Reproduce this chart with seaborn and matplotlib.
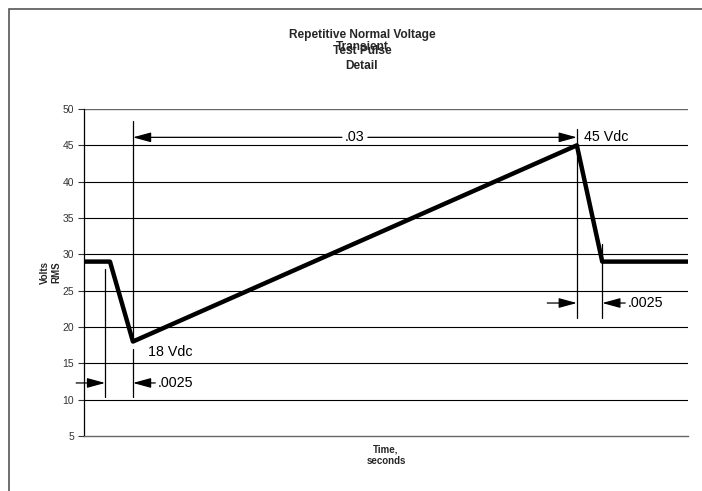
import numpy as np
import pandas as pd
import seaborn as sns
from matplotlib import pyplot as plt
from matplotlib.patches import Rectangle

sns.set_style("white")
plt.rcParams['font.family'] = ['Liberation Sans', 'DejaVu Sans']

# pulse shape (time in arbitrary drawing units, volts)
pulse_t = [0, 4.3, 8.1, 81.6, 85.8, 100]
pulse_v = [29, 29, 18, 45, 29, 29]

y_ticks = [5, 10, 15, 20, 25, 30, 35, 40, 45, 50]
grid_y = [10, 15, 20, 25, 30, 35, 40, 45]

title_lines = ["Repetitive Normal Voltage", "Transient", "Test Pulse", "Detail"]

df = pd.DataFrame({'t': pulse_t, 'v': pulse_v})

fig = plt.figure(figsize=(7.02, 4.91), dpi=100)
# outer frame
fig.patches.append(Rectangle((9/702, -0.1), 1.2, (491-9)/491+0.1, transform=fig.transFigure,
                             fill=False, edgecolor='#555555', lw=1.2))
ax = fig.add_axes([84/702, (491-436)/491, (688-84)/702, (436-109)/491])

for g in grid_y:
    ax.axhline(g, color='black', lw=0.8, zorder=1)
ax.axhline(50, color='#666666', lw=1.0, zorder=1)

sns.lineplot(data=df, x='t', y='v', color='black', lw=3.2, ax=ax, zorder=5)

ax.set_xlim(0, 100)
ax.set_ylim(5, 50)
ax.set_yticks(y_ticks)
ax.set_xticks([])
ax.tick_params(axis='y', direction='out', length=4, width=0.8, labelsize=7.5, pad=3,
               colors='#333333', left=True)
for s in ['top', 'right']:
    ax.spines[s].set_visible(False)
ax.spines['left'].set_color('black')
ax.spines['left'].set_linewidth(0.9)
ax.spines['bottom'].set_color('#666666')
ax.spines['bottom'].set_linewidth(1.0)

ax.set_xlabel("Time,\nseconds", fontsize=7, fontweight='bold', labelpad=6)
ax.set_ylabel("Volts\nRMS", fontsize=7, fontweight='bold', labelpad=1)

# dimension lines
lkw = dict(color='black', lw=0.9, clip_on=False, zorder=3)
ax.plot([3.5, 3.5], [28, 10.4], **lkw)
ax.plot([8.1, 8.1], [48.3, 18], **lkw)
ax.plot([8.1, 8.1], [17, 10.4], **lkw)
ax.plot([81.6, 81.6], [47.2, 21.2], **lkw)
ax.plot([85.8, 85.8], [31.4, 21.2], **lkw)

akw = dict(arrowstyle='-|>,head_length=1.1,head_width=0.3', color='black', lw=0.9,
           shrinkA=0, shrinkB=0, mutation_scale=10)


def arrow(x0, y0, x1, y1):
    ax.annotate('', xy=(x1, y1), xytext=(x0, y0), arrowprops=akw, annotation_clip=False)


arrow(-1.3, 12.3, 3.5, 12.3)
arrow(11.8, 12.3, 8.1, 12.3)
arrow(76.7, 23.3, 81.6, 23.3)
arrow(89.6, 23.3, 85.8, 23.3)
arrow(42.7, 46.1, 8.1, 46.1)
arrow(47.0, 46.1, 81.6, 46.1)

tkw = dict(fontsize=10.3, va='center', color='black')
ax.text(12.2, 12.3, ".0025", ha='left', **tkw)
ax.text(90.0, 23.3, ".0025", ha='left', **tkw)
ax.text(44.8, 46.1, ".03", ha='center', **tkw)
ax.text(10.6, 16.5, "18 Vdc", ha='left', **tkw)
ax.text(82.8, 46.1, "45 Vdc", ha='left', **tkw)

# title lines overlap like in the original
tkw2 = dict(fontsize=8.6, fontweight='bold', ha='center', va='center', transform=fig.transFigure)
fig.text(362/702, 1-35/491, title_lines[0], **tkw2)
fig.text(362/702, 1-47/491, title_lines[1], **tkw2)
fig.text(362/702, 1-51/491, title_lines[2], **tkw2)
fig.text(362/702, 1-66/491, title_lines[3], **tkw2)

fig.savefig("out.png", dpi=100)
